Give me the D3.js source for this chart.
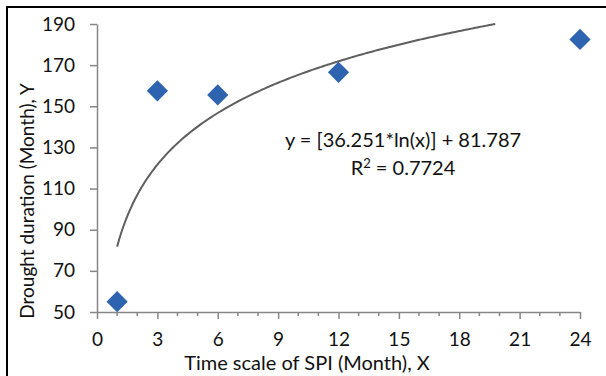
<!DOCTYPE html>
<html>
<head>
<meta charset="utf-8">
<script src="https://cdn.jsdelivr.net/npm/d3@7"></script>
<style>
  body { margin: 0; background: #fff; }
  svg text { font-family: Lato, "Open Sans", sans-serif; fill: #111; }
</style>
</head>
<body>
<svg id="chart" width="606" height="376"></svg>
<script>
// data
const timeScales = [1, 3, 6, 12, 24];
const droughtDuration = [55, 157.5, 155.5, 166.5, 182.5];
const xTicks = [0, 3, 6, 9, 12, 15, 18, 21, 24];
const yTicks = [50, 70, 90, 110, 130, 150, 170, 190];
// log trendline as printed on the chart
const fitA = 36.251;
const fitB = 81.787;
const fitR2 = 0.7724;

const svg = d3.select("#chart");

// outer frame (only top and left edges show in the crop)
svg.append("line").attr("x1", 7).attr("y1", 7).attr("x2", 606).attr("y2", 7)
    .attr("stroke", "#000").attr("stroke-width", 2);
svg.append("line").attr("x1", 7).attr("y1", 6).attr("x2", 7).attr("y2", 376)
    .attr("stroke", "#000").attr("stroke-width", 2);

const x = d3.scaleLinear().domain([0, 24]).range([97, 580]);
const y = d3.scaleLinear().domain([50, 190]).range([312, 24]);

const axisColor = "#868686";

// y axis
const yAxis = svg.append("g")
    .attr("transform", "translate(" + x(0) + ",0)")
    .call(d3.axisLeft(y).tickValues(yTicks).tickSize(7).tickPadding(15).tickSizeOuter(0));
yAxis.selectAll("text").style("font-size", "19px");

// x axis
const xAxis = svg.append("g")
    .attr("transform", "translate(0," + y(50) + ")")
    .call(d3.axisBottom(x).tickValues(xTicks).tickSize(7).tickPadding(14).tickSizeOuter(0));
xAxis.selectAll("text").style("font-size", "19px");

// minor ticks every month
svg.append("g").selectAll("line")
    .data(d3.range(0, 25).filter(d => d % 3 !== 0))
    .enter().append("line")
    .attr("x1", d => x(d)).attr("x2", d => x(d))
    .attr("y1", y(50)).attr("y2", y(50) + 4)
    .attr("stroke", axisColor).attr("stroke-width", 1.5);

svg.selectAll(".domain, .tick line").attr("stroke", axisColor).attr("stroke-width", 1.5);

// trendline, clipped at the top of the plot
const xEnd = Math.exp((190 - fitB) / fitA);
const fitPts = d3.range(1, xEnd, 0.1).concat([xEnd]).map(v => [v, fitA * Math.log(v) + fitB]);
svg.append("path")
    .datum(fitPts)
    .attr("fill", "none")
    .attr("stroke", "#5f5f5f")
    .attr("stroke-width", 2)
    .attr("d", d3.line().x(d => x(d[0])).y(d => y(d[1])));

// diamond markers
svg.append("g").selectAll("path")
    .data(timeScales)
    .enter().append("path")
    .attr("transform", (d, i) => "translate(" + x(d) + "," + y(droughtDuration[i]) + ") rotate(45)")
    .attr("d", "M-7.5,-7.5H7.5V7.5H-7.5Z")
    .attr("fill", "#2e63b0");

// equation
svg.append("text")
    .attr("x", 403).attr("y", 147)
    .attr("text-anchor", "middle")
    .style("font-size", "20px")
    .text("y = [" + fitA + "*ln(x)] + " + fitB);
const r2 = svg.append("text")
    .attr("x", 403).attr("y", 175)
    .attr("text-anchor", "middle")
    .style("font-size", "20px");
r2.append("tspan").text("R");
r2.append("tspan").attr("dy", -7).style("font-size", "13px").text("2");
r2.append("tspan").attr("dy", 7).text(" = " + fitR2);

// axis titles
svg.append("text")
    .attr("x", 307).attr("y", 370)
    .attr("text-anchor", "middle")
    .style("font-size", "20px")
    .text("Time scale of SPI (Month), X");

svg.append("text")
    .attr("transform", "translate(34,201) rotate(-90)")
    .attr("text-anchor", "middle")
    .style("font-size", "19px")
    .text("Drought duration (Month), Y");
</script>
</body>
</html>
